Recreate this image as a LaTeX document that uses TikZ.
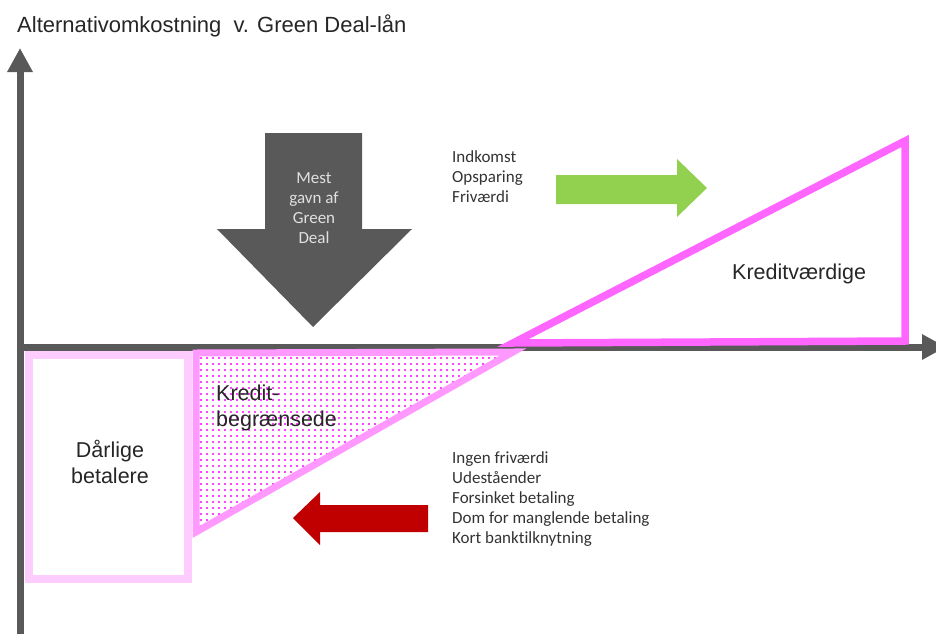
\documentclass[tikz,border=0pt]{standalone}
\usepackage{fontspec}
\setmainfont{Liberation Sans}
\newfontfamily\calib[Ligatures=NoCommon]{Carlito}
\usetikzlibrary{arrows.meta}
\definecolor{axisG}{RGB}{89,89,89}
\definecolor{poorP}{RGB}{255,204,255}
\definecolor{limP}{RGB}{255,153,255}
\definecolor{goodP}{RGB}{255,102,255}
\definecolor{dotM}{RGB}{255,0,255}
\definecolor{upG}{RGB}{146,208,80}
\definecolor{downR}{RGB}{192,0,0}

\begin{document}
\begin{tikzpicture}[x=1pt, y=-1pt,
  axisline/.style={line width=7pt, axisG, -{Triangle[width=24pt,length=24pt]}},
  bigtxt/.style={font=\fontsize{21.5}{26}\selectfont, text=black!85, inner sep=0pt},
  smalltxt/.style={font=\calib\fontsize{17}{20}\selectfont, text=black!80, inner sep=0pt, anchor=base west}]
\useasboundingbox (0,0) rectangle (936,634);
% ===== axes =====
\draw[axisline] (20,634) -- (20,48);
\draw[axisline] (16.5,347) -- (946,347);
\node[bigtxt, font=\fontsize{22}{26}\selectfont, anchor=base west] (title) at (17,33) {Alternativomkostning\ \ v. Green Deal-lån};
% ===== dårlige betalere =====
\draw[poorP, line width=8pt] (29,355) rectangle (188,579);
\node[bigtxt, align=center] (poor) at (110,462) {Dårlige\\betalere};
% ===== kreditbegrænsede: dotted triangle =====
\begin{scope}
\clip (196,353) -- (513,352) -- (196,532) -- cycle;
\foreach \px in {201,207,...,512}
  \foreach \py in {358,364,...,530}
    \fill[dotM] (\px,\py) circle (1.2pt);
\end{scope}
\draw[limP, line width=7pt] (196,353) -- (513,352) -- (196,532) -- cycle;
\node[bigtxt, anchor=base west] (lim1) at (216,400) {Kredit-};
\node[bigtxt, anchor=base west] (lim2) at (216,426) {begrænsede};
% ===== kreditværdige triangle =====
\draw[goodP, line width=7.5pt] (513,343) -- (905,341) -- (905,141) -- cycle;
\node[bigtxt, anchor=base west] (good) at (732,279) {Kreditværdige};
% ===== block arrows =====
\fill[axisG] (265,133) -- (362,133) -- (362,229) -- (412,229) -- (313,327) -- (217,229) -- (265,229) -- cycle;
\foreach \i/\txt in {0/Mest, 1/gavn af, 2/Green, 3/Deal}
  \node[smalltxt, anchor=base, text=black!12] (most\i) at (314,{183+20*\i}) {\txt};
\fill[upG] (556,175) -- (677,175) -- (677,159) -- (707,188) -- (677,217) -- (677,204) -- (556,204) -- cycle;
\fill[downR] (428,505) -- (320,505) -- (320,492) -- (293,518) -- (320,545) -- (320,532) -- (428,532) -- cycle;
% ===== factor lists =====
\foreach \i/\txt in {0/Indkomst, 1/Opsparing, 2/Friværdi}
  \node[smalltxt] (up\i) at (452,{162+20*\i}) {\txt};
\foreach \i/\txt in {0/Ingen friværdi, 1/Udeståender, 2/Forsinket betaling, 3/Dom for manglende betaling, 4/Kort banktilknytning}
  \node[smalltxt] (down\i) at (452,{463+20*\i}) {\txt};
\end{tikzpicture}
\end{document}
